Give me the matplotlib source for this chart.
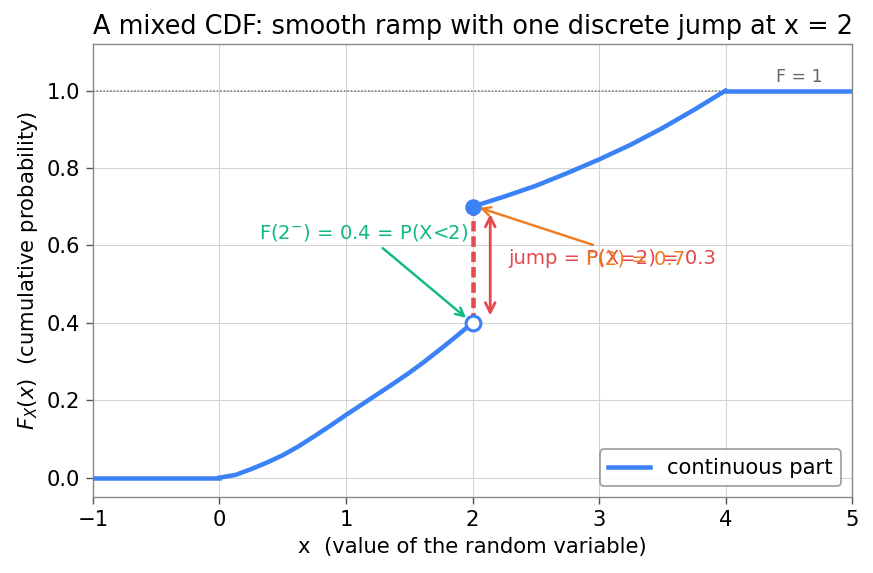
import numpy as np
import matplotlib
matplotlib.use("Agg")
import matplotlib.pyplot as plt

# ---- data ----
x_left = [-1.0, 0.0]
F_left = [0.0, 0.0]

x_ramp1 = [0.0, 0.125, 0.25, 0.375, 0.5, 0.625, 0.75, 0.875, 1.0,
           1.125, 1.25, 1.375, 1.5, 1.625, 1.75, 1.875, 2.0]
F_ramp1 = [0.0, 0.007, 0.022, 0.039, 0.058, 0.081, 0.107, 0.134, 0.162,
           0.189, 0.216, 0.243, 0.271, 0.301, 0.333, 0.366, 0.400]

x_ramp2 = [2.0, 2.25, 2.5, 2.75, 3.0, 3.25, 3.5, 3.75, 4.0]
F_ramp2 = [0.700, 0.726, 0.754, 0.787, 0.822, 0.860, 0.903, 0.950, 1.000]

x_right = [4.0, 5.0]
F_right = [1.0, 1.0]

jump_x = 2.0
F_before = 0.4
F_at = 0.7
jump = 0.3

BLUE = "#3b82f6"
RED = "#e5484d"
ORANGE = "#f07c22"
GREEN = "#10b981"

fig = plt.figure(figsize=(873/125, 573/125), dpi=125)
ax = fig.add_axes([0.1065, 0.1326, 0.8695, 0.7904])

ax.grid(True, color="#d4d4d4", linewidth=0.6)
ax.set_axisbelow(True)

ax.axhline(1.0, color="#777777", linestyle=(0, (1, 1.2)), linewidth=0.9, zorder=1)
ax.text(4.4, 1.012, "F = 1", color="#666666", fontsize=10, ha="left", va="bottom")

LW = 2.6
ax.plot(x_left, F_left, color=BLUE, linewidth=LW, label="continuous part", zorder=3)
ax.plot(x_ramp1, F_ramp1, color=BLUE, linewidth=LW, zorder=3)
ax.plot(x_ramp2, F_ramp2, color=BLUE, linewidth=LW, zorder=3)
ax.plot(x_right, F_right, color=BLUE, linewidth=LW, zorder=3)

# jump segment
ax.plot([jump_x, jump_x], [F_before, F_at], color=RED, linestyle=(0, (2.3, 1.1)), linewidth=LW, zorder=4)

# markers
ax.plot([jump_x], [F_at], marker="o", markersize=8.5, color=BLUE, zorder=6)
ax.plot([jump_x], [F_before], marker="o", markersize=8.5, markerfacecolor="white",
        markeredgecolor=BLUE, markeredgewidth=1.8, zorder=6)

# double arrow for the jump
ax.annotate("", xy=(2.14, F_at - 0.01), xytext=(2.14, F_before + 0.01),
            arrowprops=dict(arrowstyle="<->", color=RED, lw=1.6, mutation_scale=14), zorder=5)
ax.text(2.28, 0.565, f"jump = P(X=2) = {jump}", color=RED, fontsize=11.3, ha="left", va="center")

# orange annotation
ax.annotate(f"F(2) = {F_at}", xy=(2.03, F_at), xytext=(2.9, 0.565),
            color=ORANGE, fontsize=11.3, ha="left", va="center",
            arrowprops=dict(arrowstyle="->", color=ORANGE, lw=1.4, mutation_scale=12,
                            shrinkA=2, shrinkB=2))

# green annotation
ax.text(1.14, 0.634, "F(2$^{-}$) = 0.4 = P(X<2)", color=GREEN, fontsize=11.3, ha="center", va="center")
ax.annotate("", xy=(1.96, 0.41), xytext=(1.29, 0.593),
            arrowprops=dict(arrowstyle="->", color=GREEN, lw=1.4, mutation_scale=12,
                            shrinkA=0, shrinkB=1))

ax.set_xlim(-1, 5)
ax.set_ylim(-0.05, 1.12)
ax.set_xticks([-1, 0, 1, 2, 3, 4, 5])
ax.set_yticks([0.0, 0.2, 0.4, 0.6, 0.8, 1.0])
ax.tick_params(labelsize=12.2, color="#555555", length=4)
for s in ax.spines.values():
    s.set_color("#888888")

ax.set_xlabel("x  (value of the random variable)", fontsize=12.2)
ax.set_ylabel("$F_X(x)$  (cumulative probability)", fontsize=12.2)
ax.set_title("A mixed CDF: smooth ramp with one discrete jump at x = 2", fontsize=14.7)

leg = ax.legend(loc="lower right", fontsize=12.2, frameon=True, fancybox=True)
leg.get_frame().set_edgecolor("#888888")

fig.savefig("out.png", dpi=125)
